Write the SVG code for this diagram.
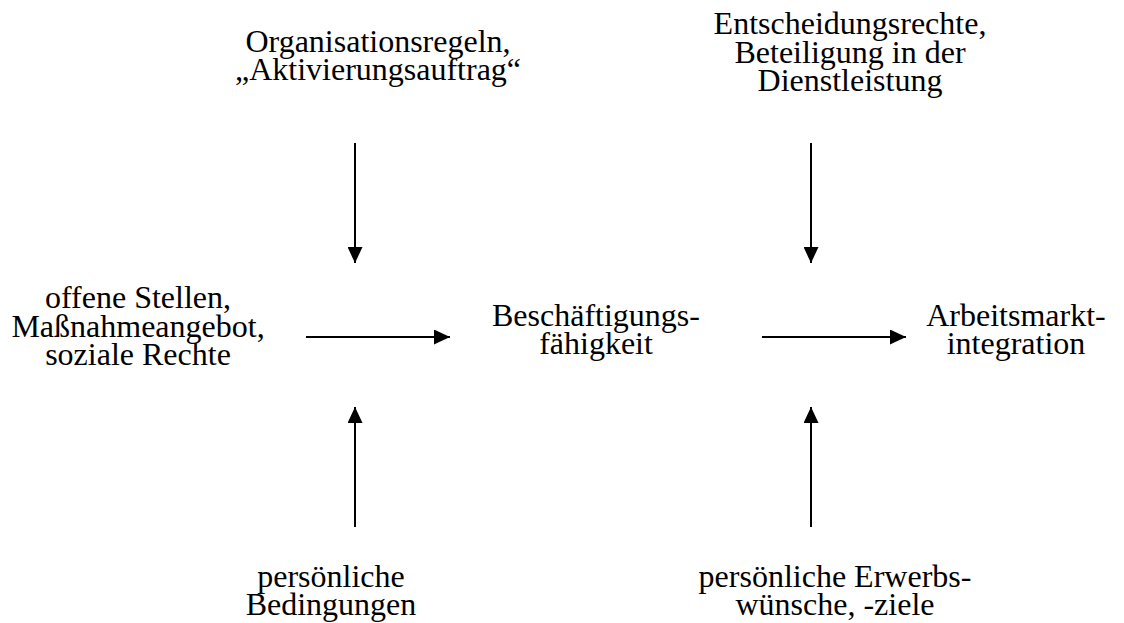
<svg xmlns="http://www.w3.org/2000/svg" width="1124" height="623" viewBox="0 0 1124 623">
<style>
.c{stroke:#000;stroke-width:2;fill:none}
.t{font-family:'Liberation Serif','Times New Roman',serif;font-size:32px;fill:#000;text-anchor:middle}
</style>
<defs>
<marker id="ah" viewBox="0 0 16 15" refX="16" refY="7.5" markerWidth="16" markerHeight="15" markerUnits="userSpaceOnUse" orient="auto">
<path d="M0,0 L16,7.5 L0,15 Z" fill="#000"/>
</marker>
</defs>
<rect width="1124" height="623" fill="#fff"/>
<g id="connectors">
<line class="c" x1="355" y1="143" x2="355" y2="263" marker-end="url(#ah)"/>
<line class="c" x1="811" y1="143" x2="811" y2="263" marker-end="url(#ah)"/>
<line class="c" x1="306" y1="337" x2="450" y2="337" marker-end="url(#ah)"/>
<line class="c" x1="762" y1="337" x2="906" y2="337" marker-end="url(#ah)"/>
<line class="c" x1="355" y1="527" x2="355" y2="407" marker-end="url(#ah)"/>
<line class="c" x1="811" y1="527" x2="811" y2="407" marker-end="url(#ah)"/>
</g>
<g class="t">
<g id="orgregeln"><text class="t" x="378" y="52">Organisationsregeln,</text><text class="t" x="378" y="80">„Aktivierungsauftrag“</text></g>
<g id="entscheidung"><text class="t" x="850" y="34">Entscheidungsrechte,</text><text class="t" x="850" y="63">Beteiligung in der</text><text class="t" x="850" y="91">Dienstleistung</text></g>
<g id="offene"><text class="t" x="138" y="308">offene Stellen,</text><text class="t" x="138" y="337">Maßnahmeangebot,</text><text class="t" x="138" y="365">soziale Rechte</text></g>
<g id="beschaeftigung"><text class="t" x="596" y="326">Beschäftigungs-</text><text class="t" x="596" y="354">fähigkeit</text></g>
<g id="integration"><text class="t" x="1016" y="326">Arbeitsmarkt-</text><text class="t" x="1016" y="354">integration</text></g>
<g id="bedingungen"><text class="t" x="331" y="587">persönliche</text><text class="t" x="331" y="615">Bedingungen</text></g>
<g id="erwerb"><text class="t" x="835" y="587">persönliche Erwerbs-</text><text class="t" x="835" y="615">wünsche, -ziele</text></g>
</g>
</svg>
